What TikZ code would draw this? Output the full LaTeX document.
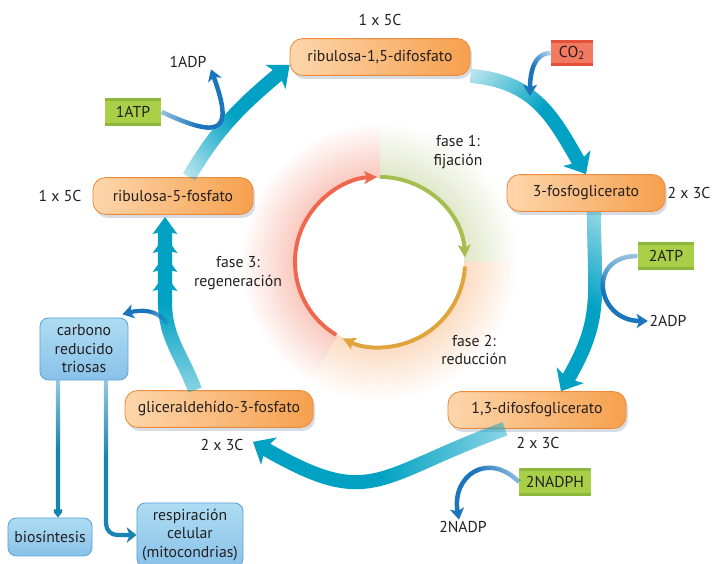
\documentclass[tikz,border=0pt]{standalone}
\usepackage{fontspec}
\setmainfont{PT Sans}
\usetikzlibrary{arrows.meta,fadings,shadows}

\definecolor{cycleteal}{HTML}{00A1C3}
\definecolor{arrowblue}{HTML}{1A75BC}
\definecolor{linkblue}{HTML}{1784B2}
\definecolor{oraLight}{HTML}{FDD6AC}
\definecolor{oraDark}{HTML}{F6A04D}
\definecolor{oraLine}{HTML}{EE8B3A}
\definecolor{boxTop}{HTML}{AEDDF2}
\definecolor{boxBot}{HTML}{88C1E9}
\definecolor{boxLine}{HTML}{5EA3D9}
\definecolor{atpgreen}{HTML}{A8CF47}
\definecolor{atpstripe}{HTML}{8BB83B}
\definecolor{co2red}{HTML}{F27A61}
\definecolor{co2stripe}{HTML}{E4503A}
\definecolor{ringgreen}{HTML}{A6BE4E}
\definecolor{ringorange}{HTML}{E0A43C}
\definecolor{ringred}{HTML}{EF674F}
\definecolor{glowgreen}{HTML}{B5C47A}
\definecolor{gloworange}{HTML}{F7A868}
\definecolor{glowred}{HTML}{F07A60}
\definecolor{txtgrey}{HTML}{231F20}
\definecolor{shadowblue}{HTML}{9AA8B8}

\pgfdeclarehorizontalshading{fadeshade}{100bp}{color(0bp)=(transparent!95); color(15bp)=(transparent!80); color(50bp)=(transparent!0); color(100bp)=(transparent!0)}
\pgfdeclarefading{fadestart}{\pgfuseshading{fadeshade}}

\tikzset{
  cyc/.style={draw=oraLine, line width=0.6pt, rounded corners=9pt, left color=oraLight, right color=oraDark, minimum height=0.92cm,
    drop shadow={shadow xshift=1.5pt, shadow yshift=-2.5pt, fill=shadowblue, opacity=0.4}},
  tally/.style={inner sep=1pt},
  energy/.style={fill=atpgreen, minimum height=0.7cm, inner sep=1pt,
    path picture={\fill[atpstripe] (path picture bounding box.north west) rectangle ([yshift=-2.2pt]path picture bounding box.north east);
                  \fill[atpstripe] (path picture bounding box.south west) rectangle ([yshift=2.2pt]path picture bounding box.south east);}},
  gas/.style={fill=co2red, minimum width=1.05cm, minimum height=0.65cm, inner sep=1pt,
    path picture={\fill[co2stripe] (path picture bounding box.north west) rectangle ([yshift=-2pt]path picture bounding box.north east);
                  \fill[co2stripe] (path picture bounding box.south west) rectangle ([yshift=2pt]path picture bounding box.south east);}},
  sink/.style={draw=boxLine, line width=0.6pt, rounded corners=6pt, top color=boxTop, bottom color=boxBot, align=center, inner sep=2pt},
  phaselabel/.style={align=center},
  bigarrow/.style={line width=10pt, cycleteal, -{Stealth[length=13pt,width=22pt,inset=3pt]}, path fading=fadestart},
  minorarrow/.style={line width=3.2pt, arrowblue, -{Stealth[length=8pt,width=10pt,inset=2pt]}, path fading=fadestart},
  linkarrow/.style={line width=3pt, linkblue, -{Stealth[length=7pt,width=11pt,inset=2pt]}, path fading=fadestart, fading angle=-90},
  ringarrow/.style={line width=2.8pt, -{Stealth[length=9pt,width=9pt,inset=2pt]}}
}

\begin{document}
\begin{tikzpicture}[x=0.025cm, y=0.025cm, every node/.style={font=\fontsize{11.2}{13.2}\selectfont, text=txtgrey}]
\useasboundingbox (0,0) rectangle (712,564);
\coordinate (ring) at (380,302);

\foreach \rr [evaluate=\rr as \pct using (3.5-\rr)*30] in {3.45,3.4,...,2.15} {
  \fill[glowgreen!\pct] (ring) -- ++(0:\rr cm) arc[start angle=0, end angle=90, radius=\rr cm] -- cycle;
  \fill[gloworange!\pct] (ring) -- ++(-120:\rr cm) arc[start angle=-120, end angle=0, radius=\rr cm] -- cycle;
  \fill[glowred!\pct] (ring) -- ++(90:\rr cm) arc[start angle=90, end angle=240, radius=\rr cm] -- cycle;
}
\fill[white] (ring) circle[radius=2.1cm];

\draw[ringarrow, ringgreen] (ring) ++(90:2.125cm) arc[start angle=90, end angle=3, radius=2.125cm];
\draw[ringarrow, ringorange] (ring) ++(-3:2.125cm) arc[start angle=-3, end angle=-116, radius=2.125cm];
\draw[ringarrow, ringred] (ring) ++(-121:2.125cm) arc[start angle=-121, end angle=-268, radius=2.125cm];

\node[phaselabel] (fase1) at (458,412) {fase 1:\\fijación};
\node[phaselabel] (fase2) at (474,214) {fase 2:\\reducción};
\node[phaselabel] (fase3) at (238,291) {fase 3:\\regeneración};

\node[cyc, minimum width=4.5cm] (r15) at (380,507) {ribulosa-1,5-difosfato};
\node[tally] (r15n) at (380,544) {1 x 5C};
\node[cyc, minimum width=3.95cm] (pga) at (586,371) {3-fosfoglicerato};
\node[tally] (pgan) at (689,371) {2 x 3C};
\node[cyc, minimum width=4.45cm] (bpg) at (537,154) {1,3-difosfoglicerato};
\node[tally] (bpgn) at (538,121) {2 x 3C};
\node[cyc, minimum width=4.7cm] (g3p) at (219,155) {gliceraldehído-3-fosfato};
\node[tally] (g3pn) at (222,119) {2 x 3C};
\node[cyc, minimum width=4cm] (ru5p) at (173,368) {ribulosa-5-fosfato};
\node[tally] (ru5pn) at (60,368) {1 x 5C};

\node[gas] (co2) at (572,511) {CO\textsubscript{2}};
\node[energy, minimum width=1.42cm] (atp1) at (133,452) {1ATP};
\node[tally] (adp1) at (188,502) {1ADP};
\node[energy, minimum width=1.42cm] (atp2) at (666,308) {2ATP};
\node[tally] (adp2) at (668,243) {2ADP};
\node[energy, minimum width=1.78cm] (nadph) at (555,82) {2NADPH};
\node[tally] (nadp) at (463,37) {2NADP};

\node[sink, minimum width=2.2cm, minimum height=1.55cm] (carb) at (84,215) {carbono\\reducido\\triosas};
\node[sink, minimum width=2.1cm, minimum height=0.95cm] (bios) at (50,27) {biosíntesis};
\node[sink, minimum width=2.65cm, minimum height=1.6cm] (resp) at (190,29) {respiración\\celular\\(mitocondrias)};

\coordinate (up4) at (165,262);
\coordinate (br) at (167,240);
\coordinate (co2in) at (530,468);

\draw[bigarrow, fading angle=-40] (r15.south east) to[out=-5, in=120, looseness=1.1] (pga.north);
\draw[bigarrow, fading angle=-100] ([xshift=0.2cm]pga.south) to[out=-90, in=60, looseness=1.2] ([xshift=0.6cm]bpg.north);
\draw[bigarrow, fading angle=180] ([xshift=-0.8cm]bpg.south) to[out=200, in=-30, looseness=1.4] ([xshift=0.85cm,yshift=-0.35cm]g3p.south);
\draw[bigarrow, fading angle=90, -{Stealth[length=12pt,width=17pt,inset=2pt,sep=1.5pt]Stealth[length=12pt,width=17pt,inset=2pt,sep=1.5pt]Stealth[length=12pt,width=17pt,inset=2pt,sep=1.5pt]Stealth[length=12pt,width=17pt,inset=2pt,sep=1.5pt]}]
  ([xshift=-0.6cm]g3p.north) to[out=110, in=-90] (up4) -- ([xshift=-0.2cm]ru5p.south);
\draw[bigarrow, fading angle=45] ([xshift=0.4cm]ru5p.north) to[out=60, in=220] ([yshift=-0.2cm]r15.west);

\draw[minorarrow, line width=3pt, fading angle=160] (br) to[out=120, in=15] ([xshift=-0.15cm,yshift=0.08cm]carb.north east);
\draw[minorarrow, fading angle=0] (atp1.east) to[out=-25, in=-70, looseness=2.6] ([xshift=2pt]adp1.south east);
\draw[minorarrow, fading angle=-120] (co2.west) to[out=180, in=90] (co2in);
\draw[minorarrow, fading angle=-90] (atp2.west) to[out=180, in=180, looseness=2] (adp2.west);
\draw[minorarrow, fading angle=-150] (nadph.west) to[out=135, in=100, looseness=1.6] ([xshift=-0.1cm]nadp.north);

\draw[linkarrow] ([xshift=-0.65cm]carb.south) -- ([xshift=0.2cm]bios.north);
\draw[linkarrow, rounded corners=8pt] ([xshift=0.55cm]carb.south) |- (resp.west);
\end{tikzpicture}
\end{document}
